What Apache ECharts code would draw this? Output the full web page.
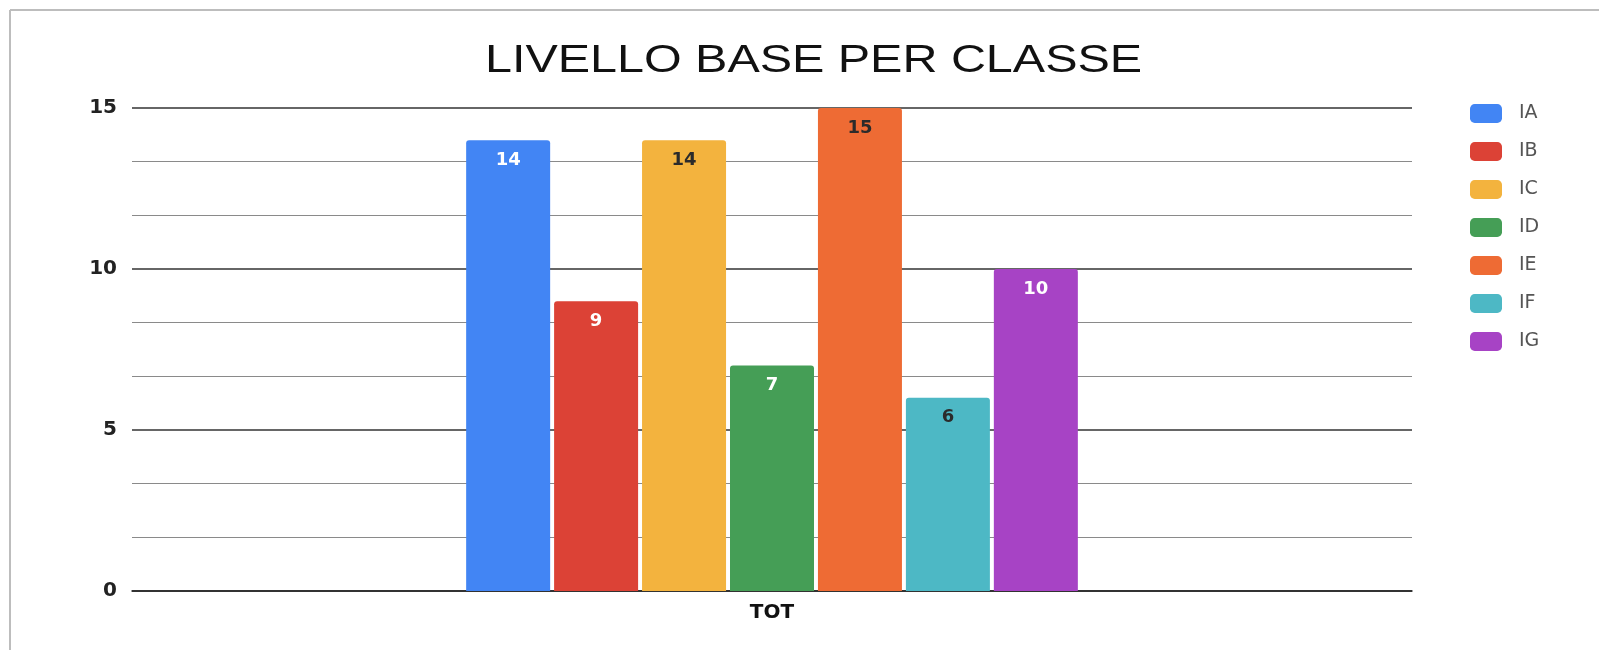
<!DOCTYPE html>
<html>
<head>
<meta charset="utf-8">
<script src="https://cdn.jsdelivr.net/npm/echarts@6/dist/echarts.min.js"></script>
<style>
html,body{margin:0;padding:0;background:#fff;}
#chart{width:1599px;height:650px;}
</style>
</head>
<body>
<div id="chart"></div>
<script>
const chartTitle = 'LIVELLO BASE PER CLASSE';
const categories = ['TOT'];
const seriesNames = ['IA', 'IB', 'IC', 'ID', 'IE', 'IF', 'IG'];
const seriesValues = [14, 9, 14, 7, 15, 6, 10];
const seriesColors = ['#4285F4', '#DC4236', '#F3B33E', '#459E56', '#EE6B34', '#4DB8C5', '#A743C5'];
const labelColors = ['#ffffff', '#ffffff', '#2b2b2b', '#ffffff', '#2b2b2b', '#2b2b2b', '#ffffff'];
const yTicks = [0, 5, 10, 15];

const chart = echarts.init(document.getElementById('chart'));
const series = seriesNames.map((name, i) => ({
  name: name,
  type: 'bar',
  data: [seriesValues[i]],
  barWidth: 84,
  barGap: '4.7%',
  itemStyle: { color: seriesColors[i], borderRadius: [3, 3, 0, 0] },
  label: {
    show: true,
    position: 'insideTop',
    distance: 11,
    color: labelColors[i],
    fontFamily: 'DejaVu Sans',
    fontWeight: 'bold',
    fontSize: 18
  }
}));

chart.setOption({
  animation: false,
  backgroundColor: '#ffffff',
  legend: {
    orient: 'vertical',
    left: 1465,
    top: 99,
    itemWidth: 32,
    itemHeight: 19,
    itemGap: 19,
    icon: 'roundRect',
    textStyle: { fontFamily: 'DejaVu Sans', fontSize: 19, color: '#555', padding: [0, 0, 0, 12] },
    data: seriesNames
  },
  grid: { left: 132, right: 187, top: 108, bottom: 59 },
  xAxis: {
    type: 'category',
    data: categories,
    axisTick: { show: false },
    axisLine: { lineStyle: { color: '#222', width: 1.5 } },
    axisLabel: { fontFamily: 'DejaVu Sans', fontWeight: 'bold', fontSize: 20, color: '#111', margin: 12 }
  },
  yAxis: {
    type: 'value',
    min: yTicks[0],
    max: yTicks[yTicks.length - 1],
    interval: 5,
    axisLine: { show: false },
    axisTick: { show: false },
    axisLabel: { fontFamily: 'DejaVu Sans', fontWeight: 'bold', fontSize: 20, color: '#222', margin: 15 },
    splitLine: { lineStyle: { color: '#333', width: 1.5 } },
    minorTick: { show: false, splitNumber: 3 },
    minorSplitLine: { show: true, lineStyle: { color: '#8a8a8a', width: 1 } }
  },
  graphic: [
    { type: 'line', shape: { x1: 10, y1: 10, x2: 1599, y2: 10 }, style: { stroke: '#bdbdbd', lineWidth: 2 } },
    { type: 'line', shape: { x1: 10, y1: 10, x2: 10, y2: 650 }, style: { stroke: '#bdbdbd', lineWidth: 2 } },
    {
      type: 'text', x: 485, y: 61.5, scaleX: 1.275, scaleY: 1,
      style: { text: chartTitle, x: 0, y: 0, fill: '#111', font: '38px "Liberation Sans"', verticalAlign: 'middle', align: 'left' }
    }
  ],
  series: series
});
</script>
</body>
</html>
